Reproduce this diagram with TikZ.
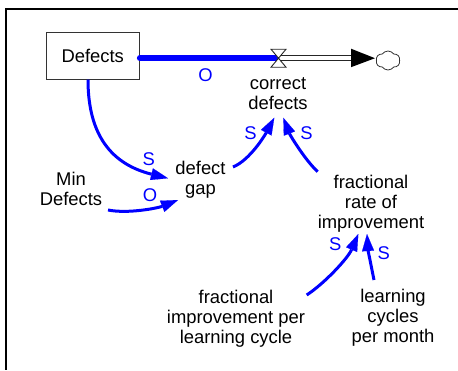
\documentclass[tikz,border=0pt]{standalone}
\usepackage{fontspec}
\setmainfont{Liberation Sans}
\usetikzlibrary{arrows.meta,shapes.symbols,calc}
\definecolor{vblue}{RGB}{0,0,255}
\begin{document}
\begin{tikzpicture}[x=1pt,y=-1pt,
  txt/.style={inner sep=0pt, align=center, font=\fontsize{18.4}{20}\selectfont},
  pol/.style={inner sep=0pt, text=vblue, font=\fontsize{18.4}{20}\selectfont},
  link/.style={draw=vblue, line width=3pt, -{Triangle[length=17pt,width=12pt,line width=0.1pt]}},
  pipe/.style={draw=black!85, line width=1.1pt, double=white, double distance=3.9pt},
]
\useasboundingbox (0,0) rectangle (458,370);
% frame
\draw[line width=2.3pt] (458,8.7) -- (6.2,8.7) -- (6.2,370);

% nodes
\node[draw=black!80, line width=0.9pt, minimum width=93pt, minimum height=46.5pt, inner sep=0pt,
      font=\fontsize{18.4}{20}\selectfont] (defects) at (92.7,56) {Defects};
\coordinate (valve) at (278.5,58.2);
\coordinate (pipeend) at (351,58.2);
\node[txt] (correct) at (278,94) {correct\\defects};
\node[cloud, cloud puffs=6, cloud puff arc=110, draw=black!80, line width=0.8pt, minimum width=24pt, minimum height=19pt,
      inner sep=0pt, aspect=1.3] (cloud) at (388,60.5) {};
\node[txt] (gap) at (200.5,179.5) {defect\\gap};
\node[txt] (mind) at (71,188.7) {Min\\Defects};
\node[txt] (rate) at (371,203.4) {fractional\\rate of\\improvement};
\node[txt] (fipc) at (236,318.7) {fractional\\improvement per\\learning cycle};
\node[txt] (lcpm) at (393,317.8) {learning\\cycles\\per month};

% flow pipe
\draw[pipe] (defects.east |- valve) -- (pipeend);
\fill ($(pipeend)+(0,-9.5)$) -- ($(pipeend)+(24,0)$) -- ($(pipeend)+(0,9)$) -- cycle;
\draw[vblue, line width=5.5pt, line cap=round, shorten >=2.75pt] (defects.east |- valve) -- (valve);
\filldraw[fill=white, draw=black!85, line width=0.9pt]
  ($(valve)+(-7.5,-9)$) -- ($(valve)+(7.5,-9)$) -- ($(valve)+(-7.5,9)$) -- ($(valve)+(7.5,9)$) -- cycle;

% polarity labels
\node[pol] (o1) at (205.5,74.7) {O};
\node[pol] (s1) at (148.7,158.7) {S};
\node[pol] (o2) at (150,194.7) {O};
\node[pol] (s2) at (250.5,133) {S};
\node[pol] (s3) at (306.5,133) {S};
\node[pol] (s4) at (335.3,244.5) {S};
\node[pol] (s5) at (383.8,253) {S};

% links
\draw[link] ($(defects.south)+(-4.7,0)$) .. controls +(0,56) and +(-56,-14) .. ($(gap)+(-32.5,-1.2)$);
\draw[link] ($(mind)+(37,21.3)$) .. controls +(20,4) and +(-20,8) .. ($(gap)+(-22.5,20.5)$);
\draw[link] ($(gap)+(32.5,-12.5)$) .. controls +(17,-7) and +(-9.3,17.3) .. ($(correct)+(-3.7,23.7)$);
\draw[link] ($(rate)+(-53.3,-31.7)$) .. controls +(-12.7,-11.7) and +(6.7,17.3) .. ($(correct)+(5.3,23.7)$);
\draw[link] ($(fipc)+(70.7,-23.7)$) .. controls +(18.3,-12) and +(-10.3,24) .. ($(rate)+(-12.7,30.6)$);
\draw[link] ($(lcpm)+(-19,-37.8)$) .. controls +(-3,-15) and +(1,16) .. ($(rate)+(-4,30.6)$);
\end{tikzpicture}
\end{document}
